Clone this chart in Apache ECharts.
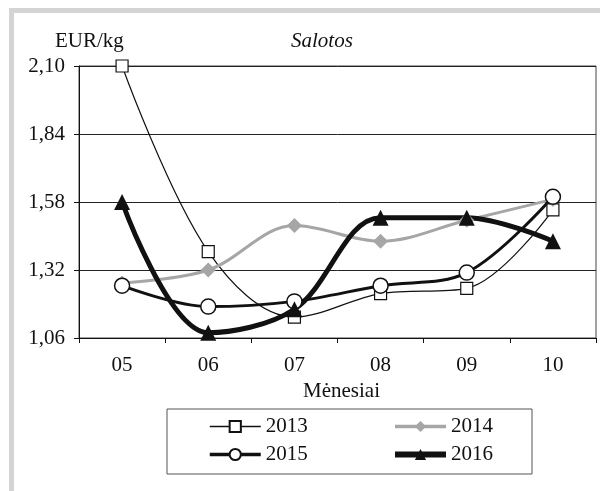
<!DOCTYPE html>
<html>
<head>
<meta charset="utf-8">
<script src="https://cdn.jsdelivr.net/npm/echarts@6/dist/echarts.min.js"></script>
<style>
  html, body { margin: 0; padding: 0; background: #fff; }
  #chart { width: 600px; height: 491px; }
</style>
</head>
<body>
<div id="chart"></div>
<script>
// month categories
const months = ['05', '06', '07', '08', '09', '10'];
// EUR/kg by year
const y2013 = [2.10, 1.39, 1.14, 1.23, 1.25, 1.55];
const y2014 = [1.27, 1.32, 1.49, 1.43, 1.51, 1.59];
const y2015 = [1.26, 1.18, 1.20, 1.26, 1.31, 1.60];
const y2016 = [1.58, 1.08, 1.17, 1.52, 1.52, 1.43];

const font = 'Liberation Serif';
const smooth = 0.35;
const chart = echarts.init(document.getElementById('chart'));

const legendText = { fontFamily: font, fontSize: 21, color: '#111', lineHeight: 21 };

chart.setOption({
    animation: false,
    title: [
        { text: 'EUR/kg', left: 55, top: 31, padding: 0,
          textStyle: { fontFamily: font, fontSize: 21, fontWeight: 'normal', color: '#111' } },
        { text: 'Salotos', left: 291, top: 31, padding: 0,
          textStyle: { fontFamily: font, fontSize: 21, fontWeight: 'normal', fontStyle: 'italic', color: '#111' } }
    ],
    graphic: [
        { type: 'rect', shape: { x: 9, y: 8, width: 591, height: 5 }, style: { fill: '#d4d4d4' }, silent: true },
        { type: 'rect', shape: { x: 9, y: 8, width: 5, height: 483 }, style: { fill: '#d4d4d4' }, silent: true },
        { type: 'rect', shape: { x: 167, y: 409, width: 365, height: 65 },
          style: { fill: 'none', stroke: '#555', lineWidth: 1 }, silent: true }
    ],
    legend: [
        { data: [
              { name: '2013', lineStyle: { width: 1.5 } },
              { name: '2015', lineStyle: { width: 3.5 } }
          ],
          orient: 'vertical', left: 208, top: 416, padding: 0,
          itemWidth: 51, itemHeight: 14, itemGap: 7, textStyle: legendText },
        { data: [
              { name: '2014', lineStyle: { width: 3.5 } },
              { name: '2016', lineStyle: { width: 6 } }
          ],
          orient: 'vertical', left: 392, top: 416, padding: 0,
          itemWidth: 51, itemHeight: 14, itemGap: 7, textStyle: legendText }
    ],
    grid: {
        left: 79, right: 4, top: 66, bottom: 153,
        show: true, borderColor: '#444', borderWidth: 1
    },
    xAxis: {
        type: 'category',
        data: months,
        boundaryGap: true,
        name: 'Mėnesiai',
        nameLocation: 'middle',
        nameGap: 37,
        nameTextStyle: { fontFamily: font, fontSize: 21, color: '#111', padding: [0, 0, 0, 8] },
        axisLine: { lineStyle: { color: '#111', width: 1 } },
        axisTick: { show: true, length: 5, lineStyle: { color: '#111' } },
        axisLabel: { fontFamily: font, fontSize: 21, color: '#111', margin: 17 }
    },
    yAxis: {
        type: 'value',
        min: 1.06,
        max: 2.10,
        interval: 0.26,
        axisLine: { show: true, lineStyle: { color: '#111', width: 1 } },
        axisTick: { show: true, length: 5, lineStyle: { color: '#111' } },
        axisLabel: {
            fontFamily: font, fontSize: 21, color: '#111', margin: 14,
            formatter: v => v.toFixed(2).replace('.', ',')
        },
        splitLine: { show: true, lineStyle: { color: '#222', width: 1 } }
    },
    series: [
        {
            name: '2013', type: 'line', data: y2013, smooth: smooth,
            symbol: 'rect', symbolSize: 12,
            lineStyle: { color: '#111', width: 1.2 },
            itemStyle: { color: '#fff', borderColor: '#111', borderWidth: 1.2 }
        },
        {
            name: '2014', type: 'line', data: y2014, smooth: smooth,
            symbol: 'diamond', symbolSize: 15,
            lineStyle: { color: '#a6a6a6', width: 3 },
            itemStyle: { color: '#a6a6a6', borderWidth: 0 }
        },
        {
            name: '2015', type: 'line', data: y2015, smooth: smooth,
            symbol: 'circle', symbolSize: 15,
            lineStyle: { color: '#111', width: 3 },
            itemStyle: { color: '#fff', borderColor: '#111', borderWidth: 1.5 }
        },
        {
            name: '2016', type: 'line', data: y2016, smooth: smooth,
            symbol: 'triangle', symbolSize: 16,
            lineStyle: { color: '#111', width: 5 },
            itemStyle: { color: '#111' }
        }
    ]
});
</script>
</body>
</html>
